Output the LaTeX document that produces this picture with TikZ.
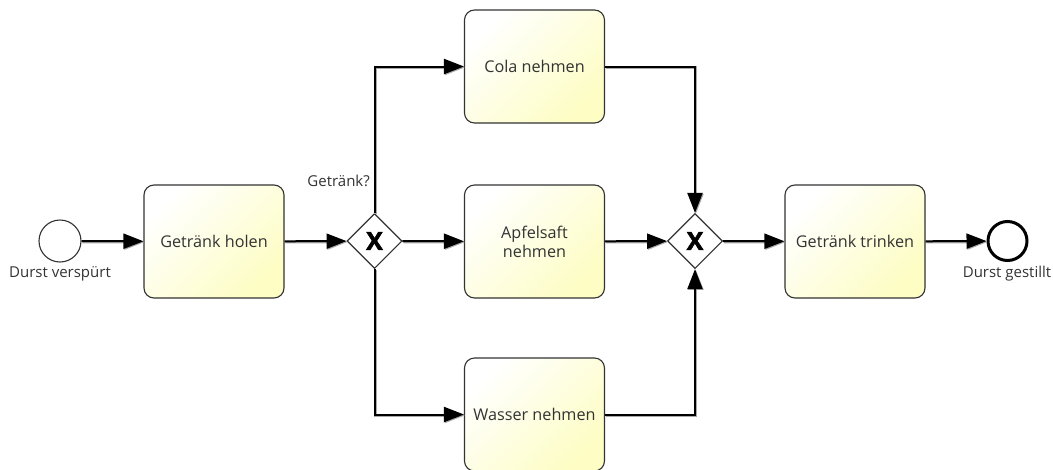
\documentclass[tikz,border=0pt]{standalone}
\usepackage{fontspec}
\setmainfont{Open Sans}
\newfontfamily\gwfont[BoldFeatures={FakeBold=2}]{Open Sans}
\usetikzlibrary{arrows.meta,shapes.geometric,calc}
\definecolor{inkgray}{HTML}{333333}
\definecolor{taskfill}{HTML}{FDFDC4}
\definecolor{shadowgray}{HTML}{A8A8A8}
\tikzset{
  task/.style={draw=inkgray, line width=1.1pt, rounded corners=10pt,
    minimum width=140pt, minimum height=113pt, inner sep=0pt,
    top color=white, bottom color=taskfill, shading angle=45,
    text=inkgray, font=\fontsize{16.2}{19}\selectfont, align=center},
  startev/.style={circle, draw=inkgray, line width=1.1pt, fill=white,
    minimum size=42pt, inner sep=0pt},
  endev/.style={circle, draw=black, line width=3pt, fill=white,
    minimum size=39pt, inner sep=0pt},
  xorgw/.style={diamond, draw=inkgray, line width=1.1pt, fill=white,
    minimum width=55pt, minimum height=55pt, inner sep=0pt,
    font=\gwfont\fontsize{25}{25}\selectfont\bfseries},
  evlabel/.style={text=inkgray, font=\fontsize{15}{17}\selectfont, inner sep=0pt},
  flow/.style={draw=black, line width=2pt,
    -{Triangle[length=20pt,width=15pt]},
    preaction={draw=shadowgray, line width=2.6pt,
      transform canvas={shift={(0.9pt,-0.9pt)}}}}
}
\begin{document}
\begin{tikzpicture}[x=1pt,y=-1pt]
\useasboundingbox (0,0) rectangle (1053,469);
\clip (0,0) rectangle (1053,469);
\fill[white] (0,0) rectangle (1053,469);

% events and gateways
\node[startev] (start) at (60,241) {};
\node[evlabel] (startlbl) at (60,274) {Durst verspürt};
\node[xorgw] (split) at (374.5,241) {X};
\node[evlabel, anchor=east] (splitlbl) at (370,181) {Getränk?};
\node[xorgw] (join) at (695,241) {X};
\node[endev] (end) at (1007.5,241) {};
\node[evlabel] (endlbl) at (1007,274) {Durst gestillt};

% tasks
\node[task] (holen) at (214,241.5) {Getränk holen};
\node[task] (cola) at (534.5,66.5) {Cola nehmen};
\node[task] (apfel) at (534.5,241.5) {Apfelsaft\\nehmen};
\node[task] (wasser) at (534.5,414.5) {Wasser nehmen};
\node[task] (trinken) at (855,241.5) {Getränk trinken};

% sequence flows
\draw[flow] (start) -- (holen);
\draw[flow] (holen) -- (split);
\draw[flow] (split) -- (apfel);
\draw[flow] (split.north) |- (cola.west);
\draw[flow] (split.south) |- (wasser.west);
\draw[flow] (apfel) -- (join);
\draw[flow] (cola.east) -| (join.north);
\draw[flow] (wasser.east) -| (join.south);
\draw[flow] (join) -- (trinken);
\draw[flow] (trinken) -- (end);
\end{tikzpicture}
\end{document}
